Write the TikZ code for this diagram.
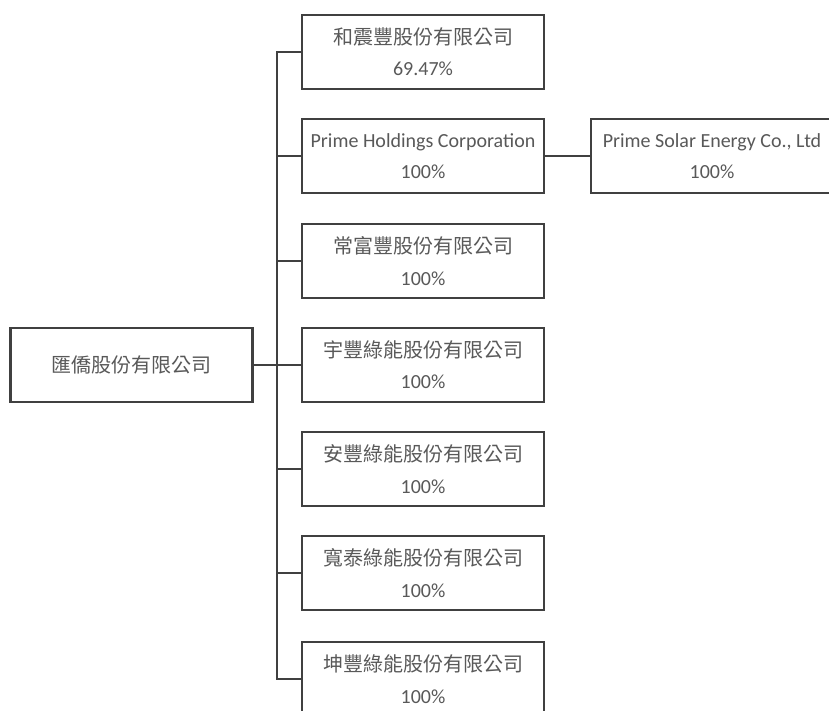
\documentclass[tikz,border=0pt]{standalone}
\usepackage{fontspec}
\setmainfont{Carlito}
\newfontfamily\cjk{Noto Sans CJK TC}
\definecolor{boxline}{HTML}{404040}
\definecolor{boxtext}{HTML}{595959}
\tikzset{
  company/.style={draw=boxline, line width=1.8pt, fill=white, text=boxtext,
    minimum width=181.5pt, minimum height=55.5pt, inner sep=0pt, align=center,
    font=\fontsize{15}{23.5}\selectfont},
  link/.style={draw=boxline, line width=1.8pt}
}
\begin{document}
\begin{tikzpicture}[x=0.75pt,y=-0.75pt]
                \useasboundingbox (0,0) rectangle (829,711);

                % parent
                \node[company] (root) at (131.5,365) {\cjk 匯僑股份有限公司};

                % subsidiaries
                \node[company] (c1) at (423,52) {\cjk 和震豐股份有限公司\\69.47\%};
                \node[company] (c2) at (423,156) {Prime Holdings Corporation\\100\%};
                \node[company] (c3) at (423,261) {\cjk 常富豐股份有限公司\\100\%};
                \node[company] (c4) at (423,365) {\cjk 宇豐綠能股份有限公司\\100\%};
                \node[company] (c5) at (423,469) {\cjk 安豐綠能股份有限公司\\100\%};
                \node[company] (c6) at (423,573) {\cjk 寬泰綠能股份有限公司\\100\%};
                \node[company] (c7) at (423,679) {\cjk 坤豐綠能股份有限公司\\100\%};
                \node[company] (ps) at (712,156) {Prime Solar Energy Co., Ltd\\100\%};

                % lines
                \coordinate (t) at (277,365);
                \draw[link] (root.east) -- (t);
                \foreach \i in {1,...,7}
                  \draw[link] (t) |- (c\i.west);
                \draw[link] (c2.east) -- (ps.west);
            \end{tikzpicture}
\end{document}
